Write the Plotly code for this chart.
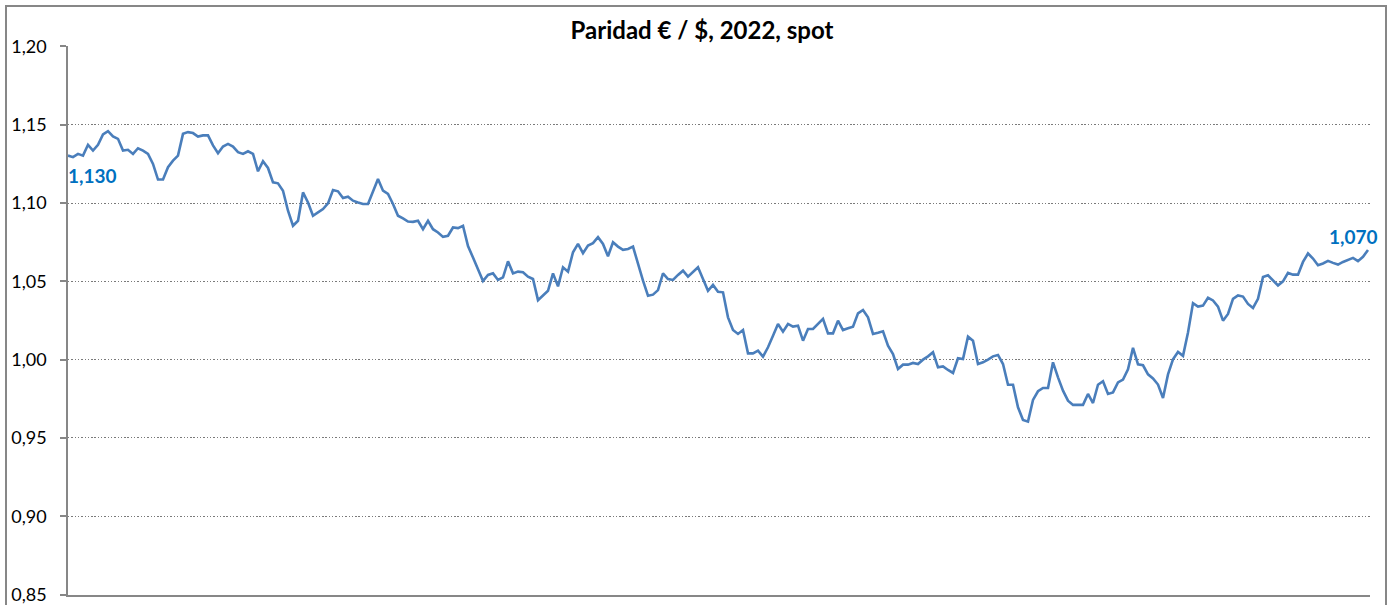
import plotly.graph_objects as go

# EUR/USD spot parity 2022, split in consecutive segments
tramo1 = [1.1303, 1.1293, 1.1314, 1.1303, 1.1372, 1.1335, 1.1372, 1.1438, 1.1459, 1.1425,
          1.1410, 1.1335, 1.1340, 1.1314, 1.1350, 1.1335, 1.1314, 1.1250, 1.1150, 1.1150,
          1.1229, 1.1271, 1.1303, 1.1442, 1.1453, 1.1447, 1.1425, 1.1432, 1.1432, 1.1368,
          1.1318, 1.1361, 1.1378, 1.1361, 1.1325, 1.1314, 1.1331, 1.1314, 1.1203, 1.1267,
          1.1224, 1.1132, 1.1126]
tramo2 = [1.1079, 1.0951, 1.0855, 1.0887, 1.1068, 1.1004, 1.0919, 1.0940, 1.0962, 1.0998,
          1.1083, 1.1075, 1.1032, 1.1041, 1.1015, 1.1004, 1.0994, 1.0994, 1.1079, 1.1154,
          1.1079, 1.1058, 1.0994, 1.0919, 1.0902, 1.0882, 1.0880, 1.0887, 1.0833, 1.0887,
          1.0833, 1.0812, 1.0784, 1.0791, 1.0844, 1.0840, 1.0855, 1.0726, 1.0652, 1.0577,
          1.0502, 1.0541]
tramo3 = [1.0551, 1.0509, 1.0526, 1.0628, 1.0551, 1.0562, 1.0558, 1.0530, 1.0515, 1.0380,
          1.0408, 1.0440, 1.0551, 1.0468, 1.0590, 1.0562, 1.0686, 1.0739, 1.0680, 1.0729,
          1.0744, 1.0782, 1.0739, 1.0660, 1.0750, 1.0722, 1.0701, 1.0707, 1.0722, 1.0611,
          1.0504, 1.0408, 1.0415, 1.0444, 1.0551, 1.0515, 1.0509, 1.0541, 1.0568, 1.0530,
          1.0558, 1.0590]
tramo4 = [1.0515, 1.0440, 1.0477, 1.0434, 1.0430, 1.0270, 1.0189, 1.0164, 1.0189, 1.0040,
          1.0040, 1.0057, 1.0019, 1.0079, 1.0153, 1.0228, 1.0179, 1.0228, 1.0211, 1.0217,
          1.0121, 1.0196, 1.0196, 1.0228, 1.0260, 1.0168, 1.0168, 1.0249, 1.0189, 1.0200,
          1.0211, 1.0296, 1.0317, 1.0270, 1.0164, 1.0172, 1.0181, 1.0089, 1.0036, 0.9940,
          0.9968, 0.9968]
tramo5 = [0.9979, 0.9972, 1.0000, 1.0021, 1.0047, 0.9951, 0.9957, 0.9934, 0.9915, 1.0009,
          1.0004, 1.0147, 1.0121, 0.9972, 0.9983, 1.0000, 1.0021, 1.0030, 0.9972, 0.9840,
          0.9840, 0.9696, 0.9615, 0.9604, 0.9743, 0.9798, 0.9819, 0.9819, 0.9983, 0.9887,
          0.9802, 0.9738, 0.9711, 0.9711, 0.9711, 0.9781, 0.9723, 0.9840, 0.9862, 0.9781,
          0.9791, 0.9855]
tramo6 = [0.9873, 0.9938, 1.0075, 0.9970, 0.9964, 0.9906, 0.9880, 0.9841, 0.9755, 0.9906,
          1.0002, 1.0049, 1.0024, 1.0174, 1.0361, 1.0339, 1.0345, 1.0395, 1.0378, 1.0339,
          1.0249, 1.0292, 1.0388, 1.0410, 1.0403, 1.0356, 1.0330, 1.0388, 1.0528, 1.0539,
          1.0506, 1.0474, 1.0500, 1.0554, 1.0543, 1.0543, 1.0624, 1.0678, 1.0646, 1.0603,
          1.0614, 1.0631, 1.0618, 1.0607, 1.0624, 1.0639, 1.0650, 1.0629, 1.0657, 1.0700]

paridad = tramo1 + tramo2 + tramo3 + tramo4 + tramo5 + tramo6
sesiones = list(range(len(paridad)))

titulo = "Paridad € / $, 2022, spot"
etiqueta_inicio = "1,130"
etiqueta_fin = "1,070"
ticks_y = [0.85, 0.90, 0.95, 1.00, 1.05, 1.10, 1.15, 1.20]

FONT = "Lato"
GRAY = "#878787"
GRID = "#7a7a7a"
LINE = "#4a7ebb"
LABEL = "#0070c0"

fig = go.Figure()
fig.add_trace(go.Scatter(x=sesiones, y=paridad, mode="lines",
                         line=dict(color=LINE, width=2.6), hoverinfo="y",
                         showlegend=False))

fig.add_annotation(x=sesiones[0], y=paridad[0], text="<b>" + etiqueta_inicio + "</b>",
                   showarrow=False, xanchor="left", yanchor="middle",
                   xshift=-2, yshift=-20, font=dict(family=FONT, size=19, color=LABEL))
fig.add_annotation(x=sesiones[-1], y=paridad[-1], text="<b>" + etiqueta_fin + "</b>",
                   showarrow=False, xanchor="right", yanchor="middle",
                   xshift=12, yshift=14, font=dict(family=FONT, size=19, color=LABEL))

# outer chart frame
fig.add_shape(type="rect", xref="paper", yref="paper",
              x0=-0.04762, x1=1.01229, y0=-0.03, y1=1.07286,
              line=dict(color=GRAY, width=2), fillcolor="rgba(0,0,0,0)", layer="below")

fig.update_layout(
    width=1394, height=605,
    margin=dict(l=68, r=24, t=46, b=10),
    paper_bgcolor="white", plot_bgcolor="white",
    separators=",.",
    font=dict(family=FONT, size=18, color="#000000"),
    title=dict(text="<b>" + titulo + "</b>", x=0.5036, xref="container", xanchor="center",
               y=1 - 31 / 605, yref="container", yanchor="middle",
               font=dict(family=FONT, size=24, color="#000000")),
    xaxis=dict(range=[0, len(paridad) - 1 + 0.4], showgrid=False, zeroline=False,
               showticklabels=False, ticks="", showline=True, linecolor=GRAY, linewidth=1.5,
               automargin=False),
    yaxis=dict(range=[0.8497, 1.2003], tickvals=ticks_y, tickformat=".2f",
               showgrid=True, gridcolor=GRID, gridwidth=1.4, griddash="1.4px,1.9px",
               zeroline=False, showline=True, linecolor=GRAY, linewidth=1.5,
               ticks="outside", ticklen=6, tickcolor=GRAY, tickwidth=1.5,
               ticklabelstandoff=10, automargin=False,
               tickfont=dict(family=FONT, size=18, color="#000000")),
)

fig.write_html("out.html", config={"displayModeBar": False},
               post_script="document.body.style.margin='0';document.body.style.overflow='hidden';")
